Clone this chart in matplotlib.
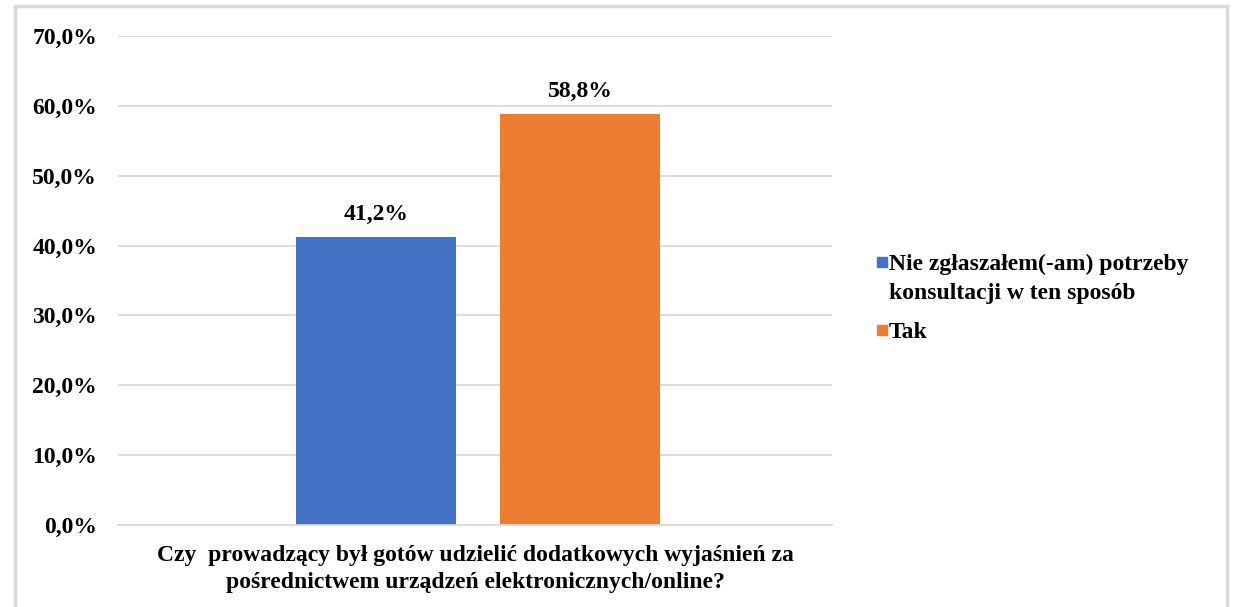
import matplotlib.pyplot as plt
from matplotlib.patches import Rectangle

categories = ['Nie zgłaszałem(-am) potrzeby\nkonsultacji w ten sposób', 'Tak']
values = [41.2, 58.8]
colors = ['#4472C4', '#ED7D31']
yticks = [0, 10, 20, 30, 40, 50, 60, 70]
xlabel = ('Czy  prowadzący był gotów udzielić dodatkowych wyjaśnień za\n'
          'pośrednictwem urządzeń elektronicznych/online?')

plt.rcParams['font.family'] = ['Liberation Serif', 'DejaVu Serif']
plt.rcParams['font.weight'] = 'bold'
fs = 17
W, H = 1233, 607

fig = plt.figure(figsize=(12.33, 6.07), dpi=100)
ax = fig.add_axes([118 / W, 82 / H, 714 / W, 489 / H])

# frame around the chart area
fig.patches.append(Rectangle((15 / W, -0.05), 1212 / W, 1.05 - 6 / H,
                             transform=fig.transFigure, fill=False,
                             edgecolor='#d9d9d9', linewidth=2.5))

for i, (v, c) in enumerate(zip(values, colors)):
    ax.bar(i, v, width=0.784, color=c, zorder=3)
    ax.text(i, v + 1.8, f'{v:.1f}%'.replace('.', ','), ha='center', va='bottom',
            fontsize=fs, fontweight='bold')

ax.set_xlim(-1.265, 2.235)
ax.set_ylim(0, 70)
ax.set_yticks(yticks)
ax.set_yticklabels([f'{t:.1f}%'.replace('.', ',') for t in yticks],
                   fontsize=fs, fontweight='bold')
ax.tick_params(axis='y', length=0, pad=15)
ax.set_xticks([])
ax.grid(axis='y', color='#d9d9d9', linewidth=1.3, zorder=0)
for s in ['top', 'right', 'left']:
    ax.spines[s].set_visible(False)
ax.spines['bottom'].set_color('#d9d9d9')
ax.spines['bottom'].set_linewidth(1.3)
ax.spines['bottom'].set_zorder(4)

ax.text(0.5, -0.04, xlabel, transform=ax.transAxes, ha='center', va='top',
        fontsize=fs, fontweight='bold', linespacing=1.4)

# legend drawn by hand so the square sits on the first text line
row_y = 262
for lab, c in zip(categories, colors):
    fig.patches.append(Rectangle((877 / W, 1 - (row_y + 5) / H), 10 / W, 10 / H,
                                 transform=fig.transFigure, color=c))
    lines = lab.split('\n')
    for ln in lines:
        fig.text(889 / W, 1 - row_y / H, ln, ha='left', va='center_baseline',
                 fontsize=fs, fontweight='bold')
        row_y += 29
    row_y += 10

fig.savefig('out.png', dpi=100)
